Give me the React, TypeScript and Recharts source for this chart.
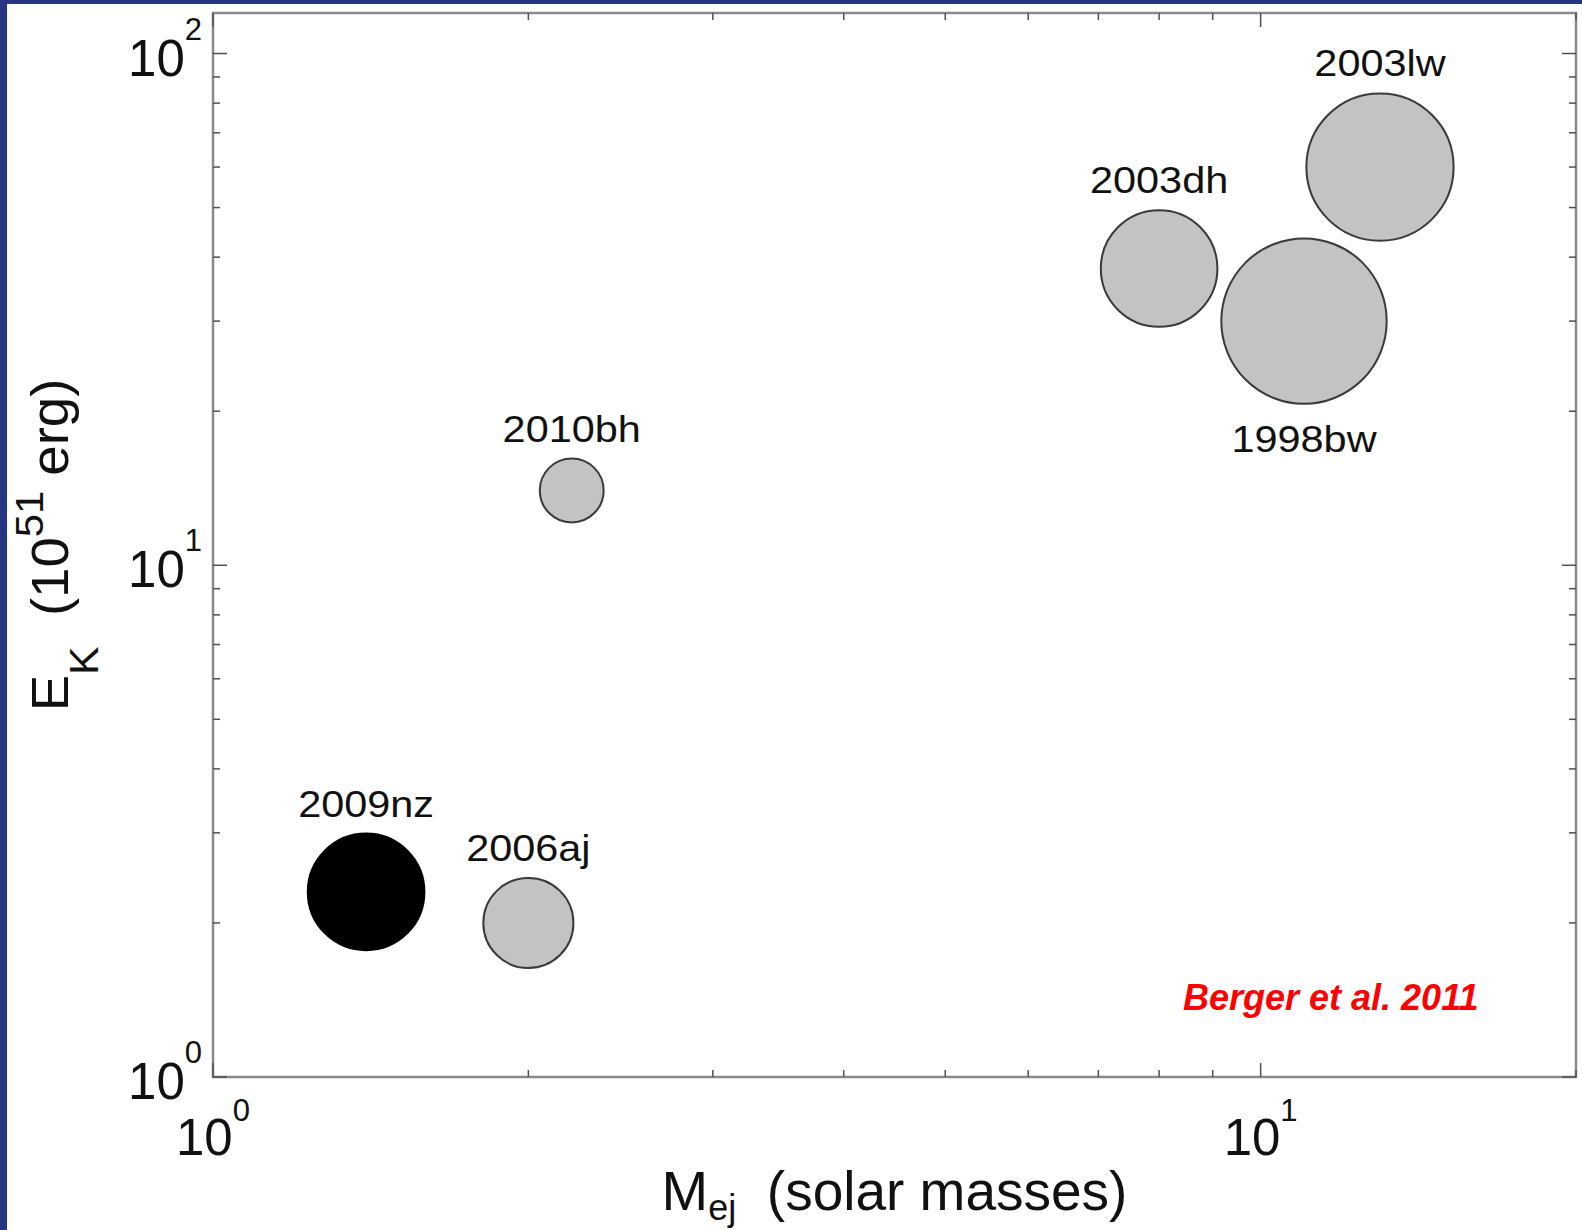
import React from 'react'
import { ScatterChart, Scatter, XAxis, YAxis, ZAxis, ReferenceArea } from 'recharts'

// supernova ejecta mass vs kinetic energy (bubble size = relative radio output)
const names = ['2009nz', '2006aj', '2010bh', '2003dh', '1998bw', '2003lw']
const ejectaMass = [1.4, 2.0, 2.2, 8.0, 11.0, 13.0]
const kineticEnergy = [2.3, 2.0, 14, 38, 30, 60]
const bubbleSize = [34.0, 20.3, 10.2, 34.0, 68.4, 54.2]
const labelSide = ['top', 'top', 'top', 'top', 'bottom', 'top']
const highlighted = ['2009nz']

const xTicks = [1, 2, 3, 4, 5, 6, 7, 8, 9, 10, 20]
const yTicks = [1, 2, 3, 4, 5, 6, 7, 8, 9, 10, 20, 30, 40, 50, 60, 70, 80, 90, 100]
const majorTicks = [1, 10, 100]

const W = 1582
const H = 1230
const MARGIN = { top: 13, right: 6, bottom: 53, left: 13 }
const Y_AXIS_W = 200
const X_AXIS_H = 100
const PL = MARGIN.left + Y_AXIS_W
const PR = W - MARGIN.right
const PT = MARGIN.top
const PB = H - MARGIN.bottom - X_AXIS_H

const FONT = '"Liberation Sans", Arial, Helvetica, sans-serif'
const TICK_COLOR = '#505050'
const FRAME_COLOR = '#8a8a8a'

const data = names.map((name, i) => ({
  name,
  m: ejectaMass[i],
  ek: kineticEnergy[i],
  z: bubbleSize[i],
  side: labelSide[i],
}))

const exponent = (v: number) => Math.round(Math.log10(v))

function YTick(props: any) {
  const { y, payload } = props
  const v = payload.value
  const major = majorTicks.includes(v)
  const len = major ? 14 : 7
  return (
    <g>
      <line x1={PL} x2={PL + len} y1={y} y2={y} stroke={TICK_COLOR} strokeWidth={1.5} />
      <line x1={PR - len} x2={PR} y1={y} y2={y} stroke={TICK_COLOR} strokeWidth={1.5} />
      {major && (
        <text x={PL - 11} y={y + 22} textAnchor="end" fontSize={51} fontFamily={FONT} fill="#111">
          10<tspan dy={-36} fontSize={31}>{exponent(v)}</tspan>
        </text>
      )}
    </g>
  )
}

function XTick(props: any) {
  const { x, payload } = props
  const v = payload.value
  const major = majorTicks.includes(v)
  const len = major ? 14 : 7
  return (
    <g>
      <line x1={x} x2={x} y1={PB} y2={PB - len} stroke={TICK_COLOR} strokeWidth={1.5} />
      <line x1={x} x2={x} y1={PT} y2={PT + len} stroke={TICK_COLOR} strokeWidth={1.5} />
      {major && (
        <text x={x} y={PB + 78} textAnchor="middle" fontSize={51} fontFamily={FONT} fill="#111">
          10<tspan dy={-34} fontSize={31}>{exponent(v)}</tspan>
        </text>
      )}
    </g>
  )
}

function Bubble(props: any) {
  const { cx, cy, width, payload } = props
  const r = width / 2
  const dark = highlighted.includes(payload.name)
  const ty = payload.side === 'bottom' ? cy + r + 48 : cy - r - 17
  return (
    <g>
      <circle
        cx={cx}
        cy={cy}
        r={r}
        fill={dark ? '#000' : '#c3c3c3'}
        stroke={dark ? '#000' : '#3a3a3a'}
        strokeWidth={2}
      />
      <text
        transform={`translate(${cx},${ty}) scale(1.12,1)`}
        textAnchor="middle"
        fontSize={37}
        fontFamily={FONT}
        fill="#111"
      >
        {payload.name}
      </text>
    </g>
  )
}

function XTitle(props: any) {
  const vb = props.viewBox
  return (
    <text
      x={vb.x + vb.width / 2}
      y={vb.y + 133}
      textAnchor="middle"
      fontFamily={FONT}
      fill="#111"
      style={{ whiteSpace: 'pre' }}
    >
      <tspan fontSize={56}>M</tspan>
      <tspan fontSize={36} dy={10}>ej</tspan>
      <tspan fontSize={55} dy={-10}>{'  (solar masses)'}</tspan>
    </text>
  )
}

function YTitle(props: any) {
  const vb = props.viewBox
  const cx = vb.x + 55
  const cy = vb.y + vb.height / 2
  return (
    <text
      transform={`translate(${cx},${cy}) rotate(-90) scale(1.07,1)`}
      textAnchor="middle"
      fontFamily={FONT}
      fill="#111"
      style={{ whiteSpace: 'pre' }}
    >
      <tspan fontSize={51}>E</tspan>
      <tspan fontSize={40} dy={30}>K</tspan>
      <tspan fontSize={51} dy={-30}>{'  (10'}</tspan>
      <tspan fontSize={39} dy={-25}>51</tspan>
      <tspan fontSize={51} dy={25}>{' erg)'}</tspan>
    </text>
  )
}

function Credit(props: any) {
  const vb = props.viewBox
  return (
    <text
      x={vb.x + vb.width - 393}
      y={vb.y + vb.height - 67}
      fontSize={36}
      fontWeight="bold"
      fontStyle="italic"
      fontFamily={FONT}
      fill="#ff0000"
    >
      Berger et al. 2011
    </text>
  )
}

export default function App() {
  return (
    <div style={{ position: 'absolute', left: 0, top: 0, width: W, height: H, background: '#fff', overflow: 'hidden' }}>
      <ScatterChart width={W} height={H} margin={MARGIN}>
        <XAxis
          dataKey="m"
          type="number"
          scale="log"
          domain={[1, 20]}
          allowDataOverflow
          ticks={xTicks}
          interval={0}
          tick={<XTick />}
          tickLine={false}
          axisLine={false}
          height={X_AXIS_H}
          label={(p: any) => <XTitle {...p} />}
        />
        <YAxis
          dataKey="ek"
          type="number"
          scale="log"
          domain={[1, 120]}
          allowDataOverflow
          ticks={yTicks}
          interval={0}
          tick={<YTick />}
          tickLine={false}
          axisLine={false}
          width={Y_AXIS_W}
          label={(p: any) => <YTitle {...p} />}
        />
        <ZAxis dataKey="z" type="number" domain={[0, 100]} range={[0, 31416]} />
        <ReferenceArea
          x1={1}
          x2={20}
          y1={1}
          y2={120}
          fill="none"
          stroke={FRAME_COLOR}
          strokeWidth={2.5}
          label={(p: any) => <Credit {...p} />}
        />
        <Scatter data={data} shape={<Bubble />} isAnimationActive={false} />
      </ScatterChart>
      <div style={{ position: 'absolute', left: 0, top: 0, width: W, height: 4, background: '#283582' }} />
      <div style={{ position: 'absolute', left: 0, top: 0, width: 7, height: H, background: '#283582' }} />
    </div>
  )
}
